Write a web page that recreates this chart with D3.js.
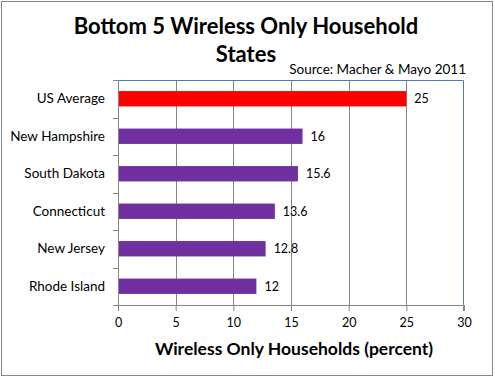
<!DOCTYPE html>
<html>
<head>
<meta charset="utf-8">
<script src="https://cdn.jsdelivr.net/npm/d3@7"></script>
<style>
  body { margin: 0; background: #fff; }
  svg { display: block; font-family: Lato, "Open Sans", sans-serif; }
</style>
</head>
<body>
<svg id="chart" width="495" height="378"></svg>
<script>
const categories = ['US Average', 'New Hampshire', 'South Dakota', 'Connecticut', 'New Jersey', 'Rhode Island'];
const values = [25, 16, 15.6, 13.6, 12.8, 12];
const barColors = ['#ff0000', '#7030a0', '#7030a0', '#7030a0', '#7030a0', '#7030a0'];
const xTicks = [0, 5, 10, 15, 20, 25, 30];

const svg = d3.select('#chart');
const margin = { top: 80, left: 118, right: 31, bottom: 73 };
const width = 495 - margin.left - margin.right;
const height = 378 - margin.top - margin.bottom;

// chart frame
svg.append('rect')
  .attr('x', 1.5).attr('y', 1.5).attr('width', 491).attr('height', 374)
  .attr('fill', '#fff').attr('stroke', '#868686');

const x = d3.scaleLinear().domain([0, 30]).range([0, width]);
const y = d3.scaleBand().domain(categories).range([0, height]).paddingInner(0.59).paddingOuter(0.295);

const g = svg.append('g').attr('transform', `translate(${margin.left},${margin.top})`);

// gridlines
g.selectAll('line.grid')
  .data(xTicks.slice(1, -1))
  .enter().append('line')
  .attr('class', 'grid')
  .attr('x1', (d) => Math.round(x(d)) + 0.5).attr('x2', (d) => Math.round(x(d)) + 0.5)
  .attr('y1', 0).attr('y2', height)
  .attr('stroke', '#868686');

// blue top and right border of plot area
g.append('path')
  .attr('d', `M0,0.5H${width - 0.5}V${height}`)
  .attr('fill', 'none').attr('stroke', '#4a7ebb');

// bars
g.selectAll('rect.bar')
  .data(values)
  .enter().append('rect')
  .attr('class', 'bar')
  .attr('x', 0)
  .attr('y', (d, i) => y(categories[i]))
  .attr('width', (d) => x(d))
  .attr('height', y.bandwidth())
  .attr('fill', (d, i) => barColors[i]);

// value labels
g.selectAll('text.val')
  .data(values)
  .enter().append('text')
  .attr('class', 'val')
  .attr('x', (d) => x(d) + 8)
  .attr('y', (d, i) => y(categories[i]) + y.bandwidth() / 2)
  .attr('dy', '0.35em')
  .attr('font-size', 12.5)
  .attr('fill', '#000')
  .text((d) => d);

// x axis
const xAxis = g.append('g')
  .attr('transform', `translate(0,${height})`)
  .call(d3.axisBottom(x).tickValues(xTicks).tickSize(6).tickPadding(7).tickFormat(d3.format('d')));
xAxis.select('.domain').attr('stroke', '#868686').attr('d', `M0.5,6V0.5H${width - 0.5}V6`);
xAxis.selectAll('.tick line').attr('stroke', '#868686');
xAxis.selectAll('.tick text').attr('font-size', 12.5).attr('fill', '#000').attr('font-family', 'Lato, sans-serif');

// y axis with ticks between categories
const yAxis = g.append('g');
yAxis.append('line')
  .attr('x1', 0.5).attr('x2', 0.5).attr('y1', 0).attr('y2', height + 6)
  .attr('stroke', '#868686');
const step = y.step();
yAxis.selectAll('line.ytick')
  .data(d3.range(categories.length + 1))
  .enter().append('line')
  .attr('class', 'ytick')
  .attr('x1', -5).attr('x2', 0.5)
  .attr('y1', (d) => Math.round(d * step) + 0.5).attr('y2', (d) => Math.round(d * step) + 0.5)
  .attr('stroke', '#868686');
yAxis.selectAll('text')
  .data(categories)
  .enter().append('text')
  .attr('x', -13)
  .attr('y', (d) => y(d) + y.bandwidth() / 2)
  .attr('dy', '0.35em')
  .attr('text-anchor', 'end')
  .attr('font-size', 13.5)
  .attr('fill', '#000')
  .text((d) => d);

// titles
svg.append('text')
  .attr('x', 246).attr('y', 34)
  .attr('text-anchor', 'middle')
  .attr('font-size', 22).attr('font-weight', 'bold')
  .text('Bottom 5 Wireless Only Household');
svg.append('text')
  .attr('x', 246).attr('y', 62)
  .attr('text-anchor', 'middle')
  .attr('font-size', 22).attr('font-weight', 'bold')
  .text('States');
svg.append('text')
  .attr('x', 466).attr('y', 74)
  .attr('text-anchor', 'end')
  .attr('font-size', 13.5)
  .text('Source: Macher & Mayo 2011');
svg.append('text')
  .attr('x', margin.left + width / 2 + 3).attr('y', 355)
  .attr('text-anchor', 'middle')
  .attr('font-size', 17.5).attr('font-weight', 'bold')
  .text('Wireless Only Households (percent)');
</script>
</body>
</html>
